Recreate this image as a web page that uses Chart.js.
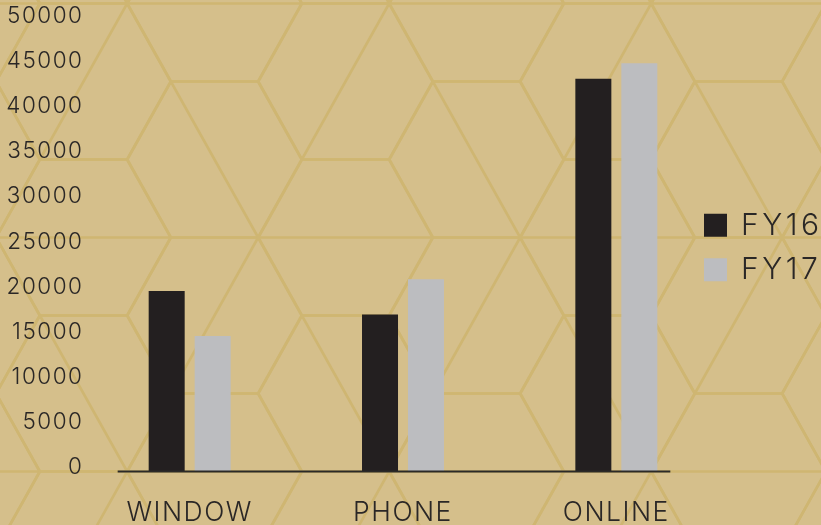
<!DOCTYPE html>
<html>
<head>
<meta charset="utf-8">
<script src="https://cdn.jsdelivr.net/npm/chart.js@4.4.1/dist/chart.umd.min.js"></script>
<style>
  html, body { margin: 0; padding: 0; background: #d5bf8b; }
  #wrap { width: 821px; height: 525px; }
</style>
</head>
<body>
<div id="wrap"><canvas id="sales"></canvas></div>
<script>
const channels = ['WINDOW', 'PHONE', 'ONLINE'];
const seriesNames = ['FY16', 'FY17'];
const fy16 = [20000, 17400, 43500];
const fy17 = [15000, 21300, 45200];
const yTicks = [0, 5000, 10000, 15000, 20000, 25000, 30000, 35000, 40000, 45000, 50000];

const barColors = ['#231f20', '#bcbdc0'];
const textColor = '#2a2726';
const fontFamily = 'Inter, "Liberation Sans", sans-serif';

// tan background with a hexagon tiling, each hexagon crossed by one long diagonal
const hexBackground = {
    id: 'hexBackground',
    beforeDraw(chart) {
        const ctx = chart.ctx;
        const s = 87.33, hh = 78;
        ctx.save();
        ctx.fillStyle = '#d5bf8b';
        ctx.fillRect(0, 0, chart.width, chart.height);
        ctx.strokeStyle = '#cfb672';
        ctx.lineWidth = 2.6;
        ctx.lineJoin = 'round';
        ctx.lineCap = 'round';
        for (let j = -3; j <= 5; j++) {
            for (let n = -2; n <= 8; n++) {
                if (((j + n) % 2 + 2) % 2 !== 1) continue;
                const cx = 345.5 + 131 * j;
                const cy = 3.5 + hh * n;
                ctx.beginPath();
                ctx.moveTo(cx - s, cy);
                ctx.lineTo(cx - s / 2, cy - hh);
                ctx.lineTo(cx + s / 2, cy - hh);
                ctx.lineTo(cx + s, cy);
                ctx.lineTo(cx + s / 2, cy + hh);
                ctx.lineTo(cx - s / 2, cy + hh);
                ctx.closePath();
                const kind = ((n % 3) + 3) % 3;
                if (kind === 0) {
                    ctx.moveTo(cx - s, cy);
                    ctx.lineTo(cx + s, cy);
                } else if (kind === 1) {
                    ctx.moveTo(cx + s / 2, cy - hh);
                    ctx.lineTo(cx - s / 2, cy + hh);
                } else {
                    ctx.moveTo(cx - s / 2, cy - hh);
                    ctx.lineTo(cx + s / 2, cy + hh);
                }
                ctx.stroke();
            }
        }
        ctx.restore();
        // tick labels are set a bit loose
        ctx.letterSpacing = '1.5px';
    },
    afterDraw(chart) {
        chart.ctx.letterSpacing = '0px';
    }
};

// baseline under the bars, a little shorter than the plot area
const baseLine = {
    id: 'baseLine',
    afterDatasetsDraw(chart) {
        const { ctx, scales: { x, y } } = chart;
        const y0 = y.getPixelForValue(0);
        ctx.save();
        ctx.strokeStyle = '#2b2a28';
        ctx.lineWidth = 2;
        ctx.beginPath();
        ctx.moveTo(x.getPixelForValue(0) - 72, y0);
        ctx.lineTo(x.getPixelForValue(channels.length - 1) + 54, y0);
        ctx.stroke();
        ctx.restore();
    }
};

// square swatches plus series names, right of the plot
const sideLegend = {
    id: 'sideLegend',
    afterDraw(chart) {
        const { ctx, chartArea } = chart;
        const mid = (chartArea.top + chartArea.bottom) / 2 + 2;
        ctx.save();
        ctx.font = '350 30px ' + fontFamily;
        ctx.letterSpacing = '3.5px';
        ctx.textBaseline = 'alphabetic';
        ctx.textAlign = 'left';
        seriesNames.forEach((name, i) => {
            const top = mid - 34 + i * 44.5;
            ctx.fillStyle = barColors[i];
            ctx.fillRect(704, top, 23, 23);
            ctx.fillStyle = textColor;
            ctx.fillText(name, 741, top + 21);
        });
        ctx.restore();
    }
};

new Chart(document.getElementById('sales'), {
    type: 'bar',
    data: {
        labels: channels,
        datasets: [
            { label: seriesNames[0], data: fy16, backgroundColor: barColors[0], borderWidth: 0 },
            { label: seriesNames[1], data: fy17, backgroundColor: barColors[1], borderWidth: 0 }
        ]
    },
    options: {
        responsive: true,
        maintainAspectRatio: false,
        animation: false,
        events: [],
        categoryPercentage: 0.431,
        barPercentage: 0.783,
        layout: { padding: { top: 20, right: 98, left: 0, bottom: 0 } },
        plugins: {
            legend: { display: false },
            tooltip: { enabled: false }
        },
        scales: {
            x: {
                grid: { display: false, drawTicks: false },
                border: { display: false },
                ticks: {
                    color: textColor,
                    font: { family: fontFamily, size: 26.5, weight: 300 },
                    padding: 26,
                    maxRotation: 0
                },
                afterFit(scale) { scale.height = 53.5; }
            },
            y: {
                min: 0,
                max: 50000,
                grid: { display: false, drawTicks: false },
                border: { display: false },
                afterBuildTicks(scale) { scale.ticks = yTicks.map(v => ({ value: v })); },
                ticks: {
                    color: textColor,
                    font: { family: fontFamily, size: 22.5, weight: 300 },
                    padding: -0.5,
                    labelOffset: -4,
                    callback: v => String(v)
                },
                afterFit(scale) { scale.width = 83; }
            }
        }
    },
    plugins: [hexBackground, baseLine, sideLegend]
});
</script>
</body>
</html>
